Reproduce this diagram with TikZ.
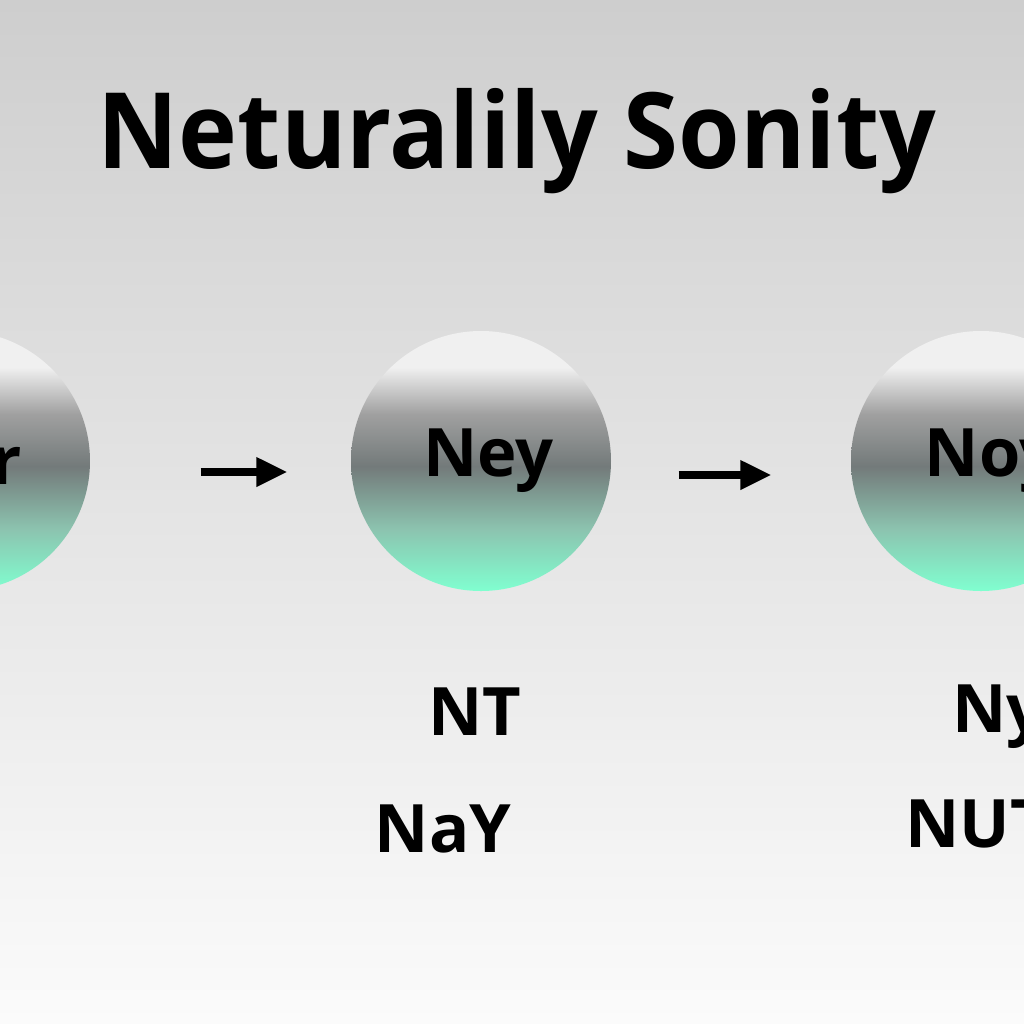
\documentclass[tikz,border=0pt]{standalone}
\usepackage{fontspec}
\setmainfont{Open Sans}
\usetikzlibrary{arrows.meta}

% Colours
\definecolor{bgtop}{RGB}{206,206,206}
\definecolor{bgmid}{RGB}{224,224,224}
\definecolor{bgbot}{RGB}{251,251,251}
\definecolor{mint}{RGB}{128,255,208}
\definecolor{mintgray}{RGB}{140,195,175}
\definecolor{ballmid}{RGB}{115,122,122}
\definecolor{ballgray}{RGB}{160,160,160}
\definecolor{balltop}{RGB}{240,240,240}

\pgfdeclareverticalshading{ballshade}{100bp}{
    color(0bp)=(mint); color(25bp)=(mint); color(37bp)=(mintgray);
    color(49bp)=(ballmid); color(59bp)=(ballgray); color(68bp)=(balltop);
    color(100bp)=(balltop)}

\begin{document}
\begin{tikzpicture}
[
    ball/.style={circle, minimum size=2.6cm, inner sep=0pt, shading=ballshade,
        font=\bfseries\fontsize{19}{19}\selectfont},
    lab/.style={font=\bfseries\fontsize{19}{19}\selectfont},
    arr/.style={line width=2pt, -{Triangle[length=3.1mm, width=2.8mm]}}
]
\useasboundingbox (0,0) rectangle (10.24,-10.24);
\clip (0,0) rectangle (10.24,-10.24);

% Background
\shade
[
    top color=bgtop,
    middle color=bgmid,
    bottom color=bgbot
] (0,0) rectangle (10.24,-10.24);

% Title
\node
[
    anchor=base,
    font=\bfseries\fontsize{30}{30}\selectfont
] (title) at (5.17,-1.68) {\scalebox{0.945}[1]{Neturalily Sonity}};

% Spheres
\node[ball] (left) at (-0.40,-4.61) {\raisebox{-1mm}{Ner}};
\node[ball] (mid) at (4.81,-4.61) {\hspace{1.5mm}\raisebox{-1mm}{Ney}};
\node[ball] (right) at (9.81,-4.61) {\hspace{2mm}\raisebox{-1mm}{Noy}};

% Arrows
\draw[arr, shorten <=1.1cm, shorten >=0.63cm]
    ([yshift=-1.1mm]left.east) -- ([yshift=-1.1mm]mid.west);
\draw[arr, shorten <=0.67cm, shorten >=0.79cm]
    ([yshift=-1.4mm]mid.east) -- ([yshift=-1.4mm]right.west);

% Labels below
\node[lab, anchor=base] (nt) at (4.75,-7.35) {NT};
\node[lab, anchor=base] (nay) at (4.43,-8.52) {NaY};
\node[lab, anchor=base west] (ny) at (9.40,-7.32) {Ny};
\node[lab, anchor=base west] (nut) at (8.93,-8.47) {NUT};
\end{tikzpicture}
\end{document}
